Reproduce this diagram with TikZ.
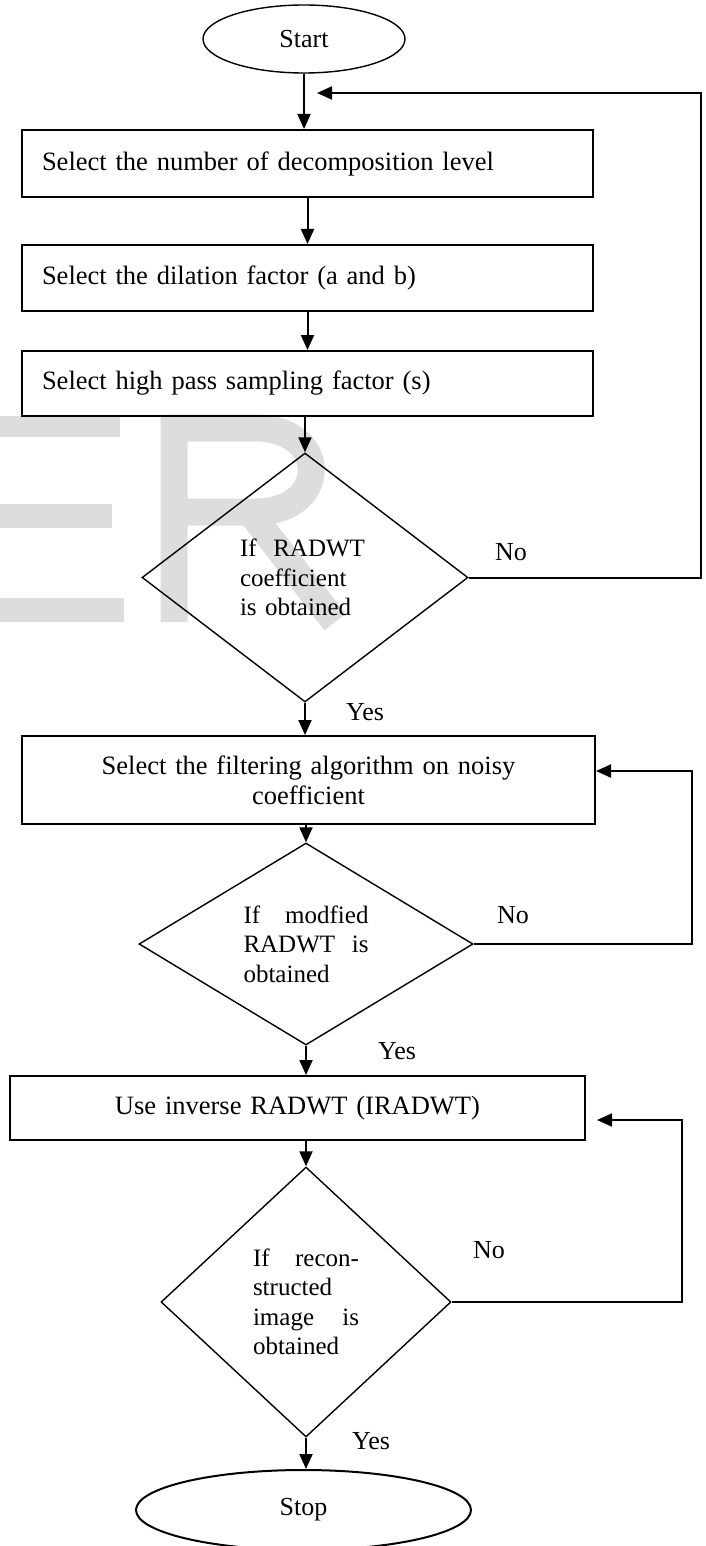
\documentclass[tikz,border=0pt]{standalone}
\usepackage{fontspec}
\setmainfont{Liberation Serif}
\usepackage{xcolor}
\usepackage{tikz}
\usetikzlibrary{shapes.geometric, arrows.meta, calc}
\definecolor{markgray}{RGB}{221,221,221}
\tikzstyle{terminal} = [ellipse, draw=black, line width=1.4pt, inner sep=0pt, font=\fontsize{26}{30}\selectfont]
\tikzstyle{task} = [rectangle, draw=black, line width=2pt, minimum width=571pt, minimum height=66pt, inner xsep=20pt, text width=531pt, align=left, font=\fontsize{26.5}{30}\selectfont]
\tikzstyle{check} = [diamond, draw=black, line width=1.4pt, inner sep=0pt, align=left, font=\fontsize{25}{29.5}\selectfont]
\tikzstyle{answer} = [inner sep=0pt, font=\fontsize{26}{30}\selectfont]
\tikzstyle{arrow} = [line width=2pt, -{Triangle[length=15pt, width=13pt]}]

\begin{document}
\begin{tikzpicture}[x=1pt, y=-1pt]
        \useasboundingbox (0,0) rectangle (706,1546);

        % watermark behind the chart
        \fill [markgray] (0,416) rectangle (120,437);
        \fill [markgray] (0,504) rectangle (112,528);
        \fill [markgray] (0,598) rectangle (124,622);
        \draw [markgray, line width=27pt] (174,622) -- (174,428) -- (255,428) .. controls (330,428) and (330,512) .. (255,512) -- (174,512);
        \draw [markgray, line width=27pt] (250,512) -- (335,622);

        \node (start) [terminal, minimum width=202pt, minimum height=68pt] at (304,39) {Start};
        \node (box1) [task, minimum height=67pt] at (307.5,163.5) {Select the number of decomposition level};
        \node (box2) [task] at (307.5,278) {Select the dilation factor (a and b)};
        \node (box3) [task, minimum height=65pt] at (307.5,383.5) {Select high pass sampling factor (s)};
        \node (dec1) [check, minimum width=326pt, minimum height=249pt, text width=130pt] at (305,577.5) {If\ \ RADWT\\coefficient\\is obtained};
        \node (box4) [task, minimum width=573pt, minimum height=88pt, text width=460pt, align=center] at (308.5,780) {Select the filtering algorithm on noisy\\coefficient};
        \node (dec2) [check, aspect=1.65, minimum width=334pt, minimum height=202pt, text width=125pt] at (306,944) {If\hfill modfied\\RADWT\hfill is\\obtained};
        \node (box5) [task, minimum width=575pt, minimum height=64pt, text width=460pt, align=center] at (297.5,1108) {Use inverse RADWT (IRADWT)};
        \node (dec3) [check, minimum width=290pt, minimum height=270pt, text width=106pt] at (306,1302) {If\hfill recon-\\structed\\image\hfill is\\obtained};
        \node (stop) [terminal, line width=2pt, minimum width=335pt, minimum height=80pt] at (303.5,1510) {Stop};

        \node (no1) [answer] at (511,552) {No};
        \node (yes1) [answer] at (365,712) {Yes};
        \node (no2) [answer] at (513,915) {No};
        \node (yes2) [answer] at (397,1051) {Yes};
        \node (no3) [answer] at (489,1250) {No};
        \node (yes3) [answer] at (371,1441) {Yes};

        \coordinate (back1) at (701,93);
        \coordinate (back1end) at (317,93);
        \coordinate (back2) at (692,771);
        \coordinate (back3) at (682,1120);
        \coordinate (back3end) at (597,1120);

        \draw [arrow] (start.south) -- (start.south |- box1.north);
        \draw [arrow] (box1) -- (box2);
        \draw [arrow] (box2) -- (box3);
        \draw [arrow] (dec1.north |- box3.south) -- (dec1.north);
        \draw [arrow] (dec1.south) -- (dec1.south |- box4.north);
        \draw [arrow] (dec2.north |- box4.south) -- (dec2.north);
        \draw [arrow] (dec2.south) -- (dec2.south |- box5.north);
        \draw [arrow] (dec3.north |- box5.south) -- (dec3.north);
        \draw [arrow] (dec3.south) -- (dec3.south |- stop.north);

        \draw [arrow] (dec1.east) -| (back1) -- (back1end);
        \draw [arrow] (dec2.east) -| (back2) -- (back2 -| box4.east);
        \draw [arrow] (dec3.east) -| (back3) -- (back3end);
    \end{tikzpicture}
\end{document}
